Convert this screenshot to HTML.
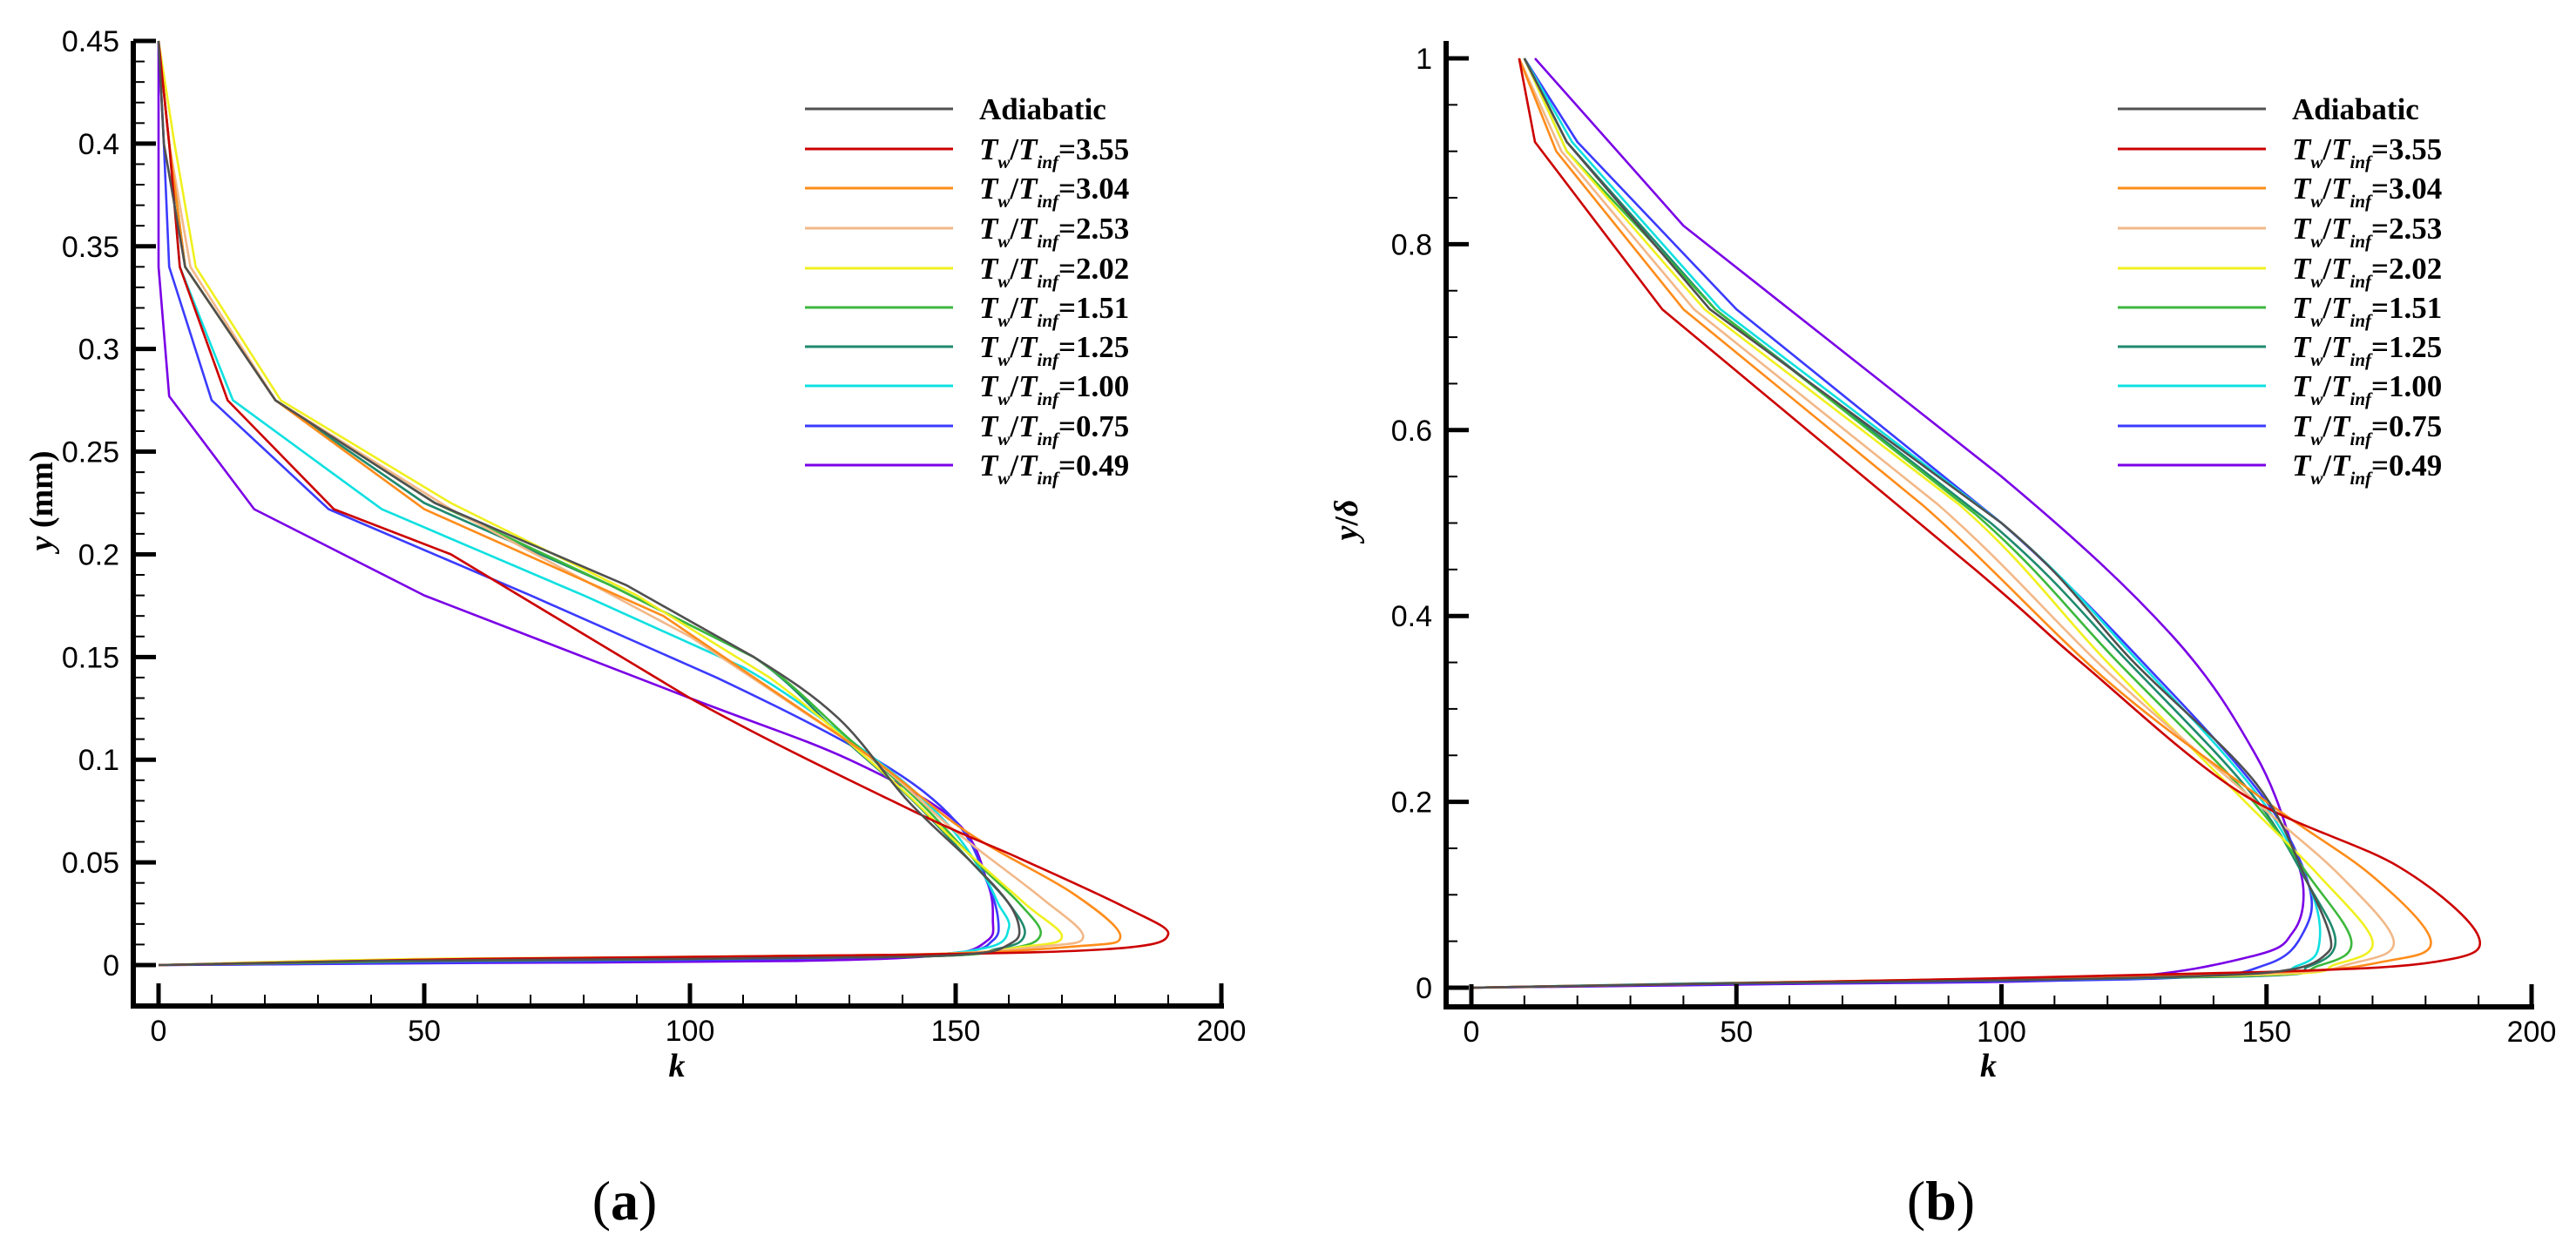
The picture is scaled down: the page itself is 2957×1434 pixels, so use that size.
<!DOCTYPE html>
<html><head><meta charset="utf-8">
<style>
html,body{margin:0;padding:0;background:#fff;}
svg{display:block;}
text{font-family:"Liberation Sans",Arial,sans-serif;}
.serif{font-family:"Liberation Serif","Times New Roman",serif;}
</style></head>
<body>
<svg id="fig" width="2957" height="1434" viewBox="0 0 2957 1434" xmlns="http://www.w3.org/2000/svg">
<g id="chartA"></g>
<g id="chartB"></g>
<text x="717" y="1400" class="serif" font-size="64" text-anchor="middle">(<tspan font-weight="bold">a</tspan>)</text>
<text x="2228" y="1400" class="serif" font-size="64" text-anchor="middle">(<tspan font-weight="bold">b</tspan>)</text>
</svg>
<script>
// ---------- data ----------
const seriesNames = ["Adiabatic","3.55","3.04","2.53","2.02","1.51","1.25","1.00","0.75","0.49"];
const seriesColors = ["#505050","#cc0000","#ff8c1a","#f2b888","#f0f020","#3cb83c","#1f8a6e","#10e0e0","#3b3bff","#7a00e6"];

// Chart (a): k vs y (mm)
const aAdiK = [0,40,100,140,155,160,162,160,153,141,128,112,88,52,22,5,1,0];
const aAdiY = [0,0.002,0.003,0.004,0.006,0.01,0.016,0.03,0.05,0.08,0.12,0.15,0.185,0.225,0.275,0.34,0.40,0.45];
const a355K = [0,60,140,180,190,182,162,142,100,55,33,13,4,2,0];
const a355Y = [0,0.003,0.005,0.008,0.015,0.028,0.052,0.075,0.13,0.20,0.222,0.275,0.34,0.40,0.45];
const a304K = [0,60,140,172,181,172,152,132,95,50,22,5,2,0];
const a304Y = [0,0.003,0.005,0.009,0.014,0.035,0.065,0.105,0.17,0.222,0.275,0.34,0.40,0.45];
const a253K = [0,60,140,166,174,166,150,132,100,55,22,6,2,0];
const a253Y = [0,0.003,0.005,0.009,0.014,0.033,0.065,0.105,0.16,0.222,0.275,0.34,0.40,0.45];
const a202K = [0,50,140,163,170,163,150,138,115,90,55,23,7,3,0];
const a202Y = [0,0.003,0.005,0.009,0.014,0.03,0.06,0.09,0.14,0.18,0.225,0.275,0.34,0.40,0.45];
const a151K = [0,50,140,160,166,162,154,143,130,112,85,52,22,5,2,0];
const a151Y = [0,0.002,0.004,0.008,0.015,0.03,0.05,0.08,0.11,0.15,0.185,0.225,0.275,0.34,0.40,0.45];
const a125K = [0,45,140,158,163,160,153,142,129,112,85,50,22,5,2,0];
const a125Y = [0,0.002,0.004,0.008,0.015,0.03,0.05,0.08,0.11,0.15,0.185,0.225,0.275,0.34,0.40,0.45];
const a100K = [0,40,130,155,160,158,155,148,135,110,80,42,14,4,2,0];
const a100Y = [0,0.002,0.004,0.008,0.018,0.03,0.045,0.07,0.10,0.145,0.18,0.222,0.275,0.34,0.40,0.45];
const a075K = [0,50,120,150,157,158,156,150,135,105,70,32,10,2,1,0];
const a075Y = [0,0.001,0.003,0.006,0.012,0.022,0.04,0.07,0.10,0.14,0.18,0.222,0.275,0.34,0.40,0.45];
const a049K = [0,60,120,148,156,157,156,150,130,100,50,18,2,0,0];
const a049Y = [0,0.001,0.002,0.005,0.012,0.022,0.04,0.07,0.10,0.13,0.18,0.222,0.277,0.34,0.45];

// Chart (b): k vs y/delta
const bAdiK = [0,40,100,140,155,161,162,158,148,125,100,45,18,10];
const bAdiY = [0,0.004,0.008,0.013,0.02,0.035,0.055,0.11,0.22,0.35,0.5,0.73,0.91,1];
const b355K = [0,80,150,182,190,175,145,115,95,36,12,9];
const b355Y = [0,0.008,0.017,0.028,0.055,0.13,0.21,0.35,0.45,0.73,0.91,1];
const b304K = [0,80,150,172,181,170,150,120,85,40,16,9];
const b304Y = [0,0.008,0.016,0.028,0.05,0.12,0.2,0.33,0.52,0.73,0.9,1];
const b253K = [0,80,150,166,174,164,148,120,88,42,17,9];
const b253Y = [0,0.008,0.015,0.026,0.05,0.12,0.2,0.34,0.52,0.73,0.9,1];
const b202K = [0,70,150,163,170,160,146,120,92,44,18,10];
const b202Y = [0,0.007,0.014,0.025,0.05,0.12,0.2,0.35,0.52,0.73,0.9,1];
const b151K = [0,60,145,160,166,158,146,122,95,46,18,10];
const b151Y = [0,0.006,0.013,0.024,0.05,0.12,0.21,0.35,0.51,0.73,0.9,1];
const b125K = [0,50,145,158,163,158,147,124,98,46,18,10];
const b125Y = [0,0.005,0.012,0.023,0.05,0.11,0.21,0.35,0.5,0.73,0.91,1];
const b100K = [0,45,140,156,160,158,148,126,100,47,19,10];
const b100Y = [0,0.005,0.012,0.024,0.05,0.11,0.21,0.35,0.5,0.73,0.91,1];
const b075K = [0,50,130,150,157,158,150,130,100,50,20,10];
const b075Y = [0,0.004,0.01,0.025,0.06,0.11,0.2,0.33,0.5,0.73,0.91,1];
const b049K = [0,60,120,148,155,157,155,148,132,100,40,12];
const b049Y = [0,0.004,0.01,0.035,0.06,0.1,0.15,0.25,0.38,0.55,0.82,1];

const aK = [aAdiK,a355K,a304K,a253K,a202K,a151K,a125K,a100K,a075K,a049K];
const aY = [aAdiY,a355Y,a304Y,a253Y,a202Y,a151Y,a125Y,a100Y,a075Y,a049Y];
const bK = [bAdiK,b355K,b304K,b253K,b202K,b151K,b125K,b100K,b075K,b049K];
const bY = [bAdiY,b355Y,b304Y,b253Y,b202Y,b151Y,b125Y,b100Y,b075Y,b049Y];

const aYTicks = ["0","0.05","0.1","0.15","0.2","0.25","0.3","0.35","0.4","0.45"];
const bYTicks = ["0","0.2","0.4","0.6","0.8","1"];
const xTicks = ["0","50","100","150","200"];

// ---------- drawing ----------
const NS = "http://www.w3.org/2000/svg";
function mk(tag, attrs, parent){
  const e = document.createElementNS(NS, tag);
  for (const k in attrs) e.setAttribute(k, attrs[k]);
  parent.appendChild(e);
  return e;
}
// smooth (Catmull-Rom) only where both data endpoints lie below the threshold; straight otherwise
function mixedPath(p, ys, thr){
  let d = "M" + p[0][0].toFixed(1) + "," + p[0][1].toFixed(1);
  const t = 0.5 / 3;
  for (let i = 0; i < p.length - 1; i++){
    const p1 = p[i], p2 = p[i + 1];
    if (ys[i] < thr && ys[i + 1] < thr){
      const p0 = p[Math.max(0, i - 1)], p3 = p[Math.min(p.length - 1, i + 2)];
      const c1x = p1[0] + (p2[0] - p0[0]) * t, c1y = p1[1] + (p2[1] - p0[1]) * t;
      const c2x = p2[0] - (p3[0] - p1[0]) * t, c2y = p2[1] - (p3[1] - p1[1]) * t;
      d += " C" + c1x.toFixed(1) + "," + c1y.toFixed(1) + " " + c2x.toFixed(1) + "," + c2y.toFixed(1) + " " + p2[0].toFixed(1) + "," + p2[1].toFixed(1);
    } else {
      d += " L" + p2[0].toFixed(1) + "," + p2[1].toFixed(1);
    }
  }
  return d;
}

function drawChart(g, cfg){
  const sx = v => cfg.x0 + (v - 0) / 200 * (cfg.x200 - cfg.x0);
  const sy = v => cfg.y0 + (v / cfg.ymax) * (cfg.ytop - cfg.y0);
  for (let i = seriesNames.length - 1; i >= 0; i--){
    const ks = cfg.K[i], ys = cfg.Y[i];
    const pts = ks.map((k, j) => [sx(k), sy(ys[j])]);
    const pl = mk("path", {d: mixedPath(pts, ys, cfg.smoothBelow), fill: "none", stroke: seriesColors[i], "stroke-width": 2.6, "stroke-linejoin": "round"}, g);
    
    
  }
  const ax = mk("g", {}, g);
  
  
  mk("line", {x1: cfg.axL, y1: cfg.axT, x2: cfg.axL, y2: cfg.axB + 3, stroke: "#000", "stroke-width": 6}, ax);
  mk("line", {x1: cfg.axL - 3, y1: cfg.axB, x2: cfg.x200 + 3, y2: cfg.axB, stroke: "#000", "stroke-width": 6}, ax);
  for (let v = 0; v <= 200; v += 10){
    const maj = v % 50 === 0;
    mk("line", {x1: sx(v), y1: cfg.axB, x2: sx(v), y2: cfg.axB - (maj ? 26 : 13), stroke: "#000", "stroke-width": maj ? 5 : 2}, ax);
  }
  xTicks.forEach(t => {
    const tx = mk("text", {x: sx(+t), y: cfg.axB + 40, "font-size": 34, "text-anchor": "middle"}, ax);
    tx.textContent = t;
    
    
  });
  const nMinor = Math.round(cfg.ymax / cfg.minor);
  for (let i = 0; i <= nMinor; i++){
    const v = i * cfg.minor;
    const maj = Math.abs(v / cfg.major - Math.round(v / cfg.major)) < 1e-6;
    mk("line", {x1: cfg.axL, y1: sy(v), x2: cfg.axL + (maj ? 26 : 13), y2: sy(v), stroke: "#000", "stroke-width": maj ? 5 : 2}, ax);
  }
  cfg.yTicks.forEach(t => {
    const ty = mk("text", {x: cfg.axL - 16, y: sy(+t) + 12, "font-size": 34, "text-anchor": "end"}, ax);
    ty.textContent = t;
    
    
  });
  const xt = mk("text", {x: (cfg.x0 + cfg.x200) / 2 - 15, y: 1236, "font-size": 38, "font-weight": "bold", "font-style": "italic", class: "serif", "text-anchor": "middle"}, g);
  xt.textContent = "k";
  
  
  const yt = mk("text", {x: 0, y: 0, "font-size": 38, "font-weight": "bold", class: "serif", "text-anchor": "middle", transform: "translate(" + cfg.ytx + "," + cfg.yty + ") rotate(-90)"}, g);
  yt.innerHTML = cfg.ytitle;
  
  
  const lg = mk("g", {}, g);
  
  
  const rows = [125,171,216,262,308,353,398,443,489,534];
  seriesNames.forEach((n, i) => {
    const le = mk("g", {}, lg);
    
    
    mk("line", {x1: cfg.lgx, y1: rows[i], x2: cfg.lgx + 170, y2: rows[i], stroke: seriesColors[i], "stroke-width": 3}, le);
    const t = mk("text", {x: cfg.lgx + 200, y: rows[i] + 12, "font-size": 35, "font-weight": "bold", class: "serif"}, le);
    if (i === 0) t.textContent = "Adiabatic";
    else t.innerHTML = '<tspan font-style="italic">T</tspan><tspan font-style="italic" font-size="21" dy="10">w</tspan><tspan dy="-10">/</tspan><tspan font-style="italic">T</tspan><tspan font-style="italic" font-size="21" dy="10">inf</tspan><tspan dy="-10">=' + n + '</tspan>';
  });
}

drawChart(document.getElementById("chartA"), {
  K: aK, Y: aY, x0: 182, x200: 1402, y0: 1108, ytop: 47, ymax: 0.45, smoothBelow: 0.16,
  axL: 153, axT: 47, axB: 1155, major: 0.05, minor: 0.01, yTicks: aYTicks,
  ytx: 60, yty: 575, ytitle: '<tspan font-style="italic">y</tspan> (mm)', lgx: 924
});
drawChart(document.getElementById("chartB"), {
  K: bK, Y: bY, x0: 1689, x200: 2906, y0: 1134, ytop: 67, ymax: 1, smoothBelow: 0.6,
  axL: 1660, axT: 47, axB: 1156, major: 0.2, minor: 0.05, yTicks: bYTicks,
  ytx: 1558, yty: 597, ytitle: '<tspan font-style="italic">y</tspan>/<tspan font-style="italic">δ</tspan>', lgx: 2431
});
</script>
</body></html>
